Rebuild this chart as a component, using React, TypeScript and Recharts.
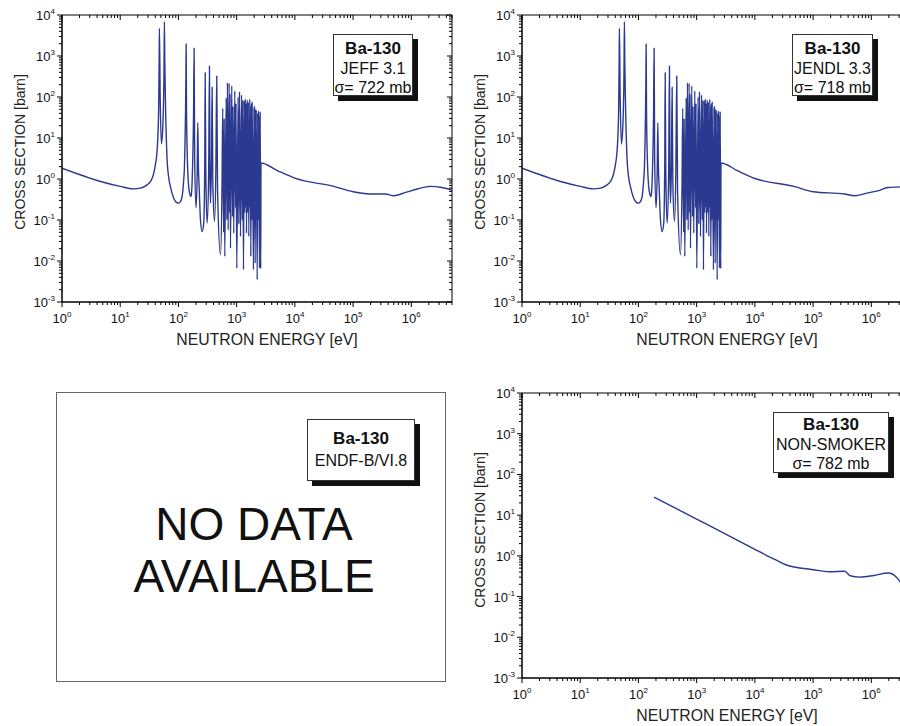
import React from 'react'
import { LineChart, Line, XAxis, YAxis, ReferenceArea } from 'recharts'

const FONT = '"Liberation Sans", Arial, Helvetica, sans-serif'
const CURVE = '#2b3990'

// axis decades, labels drawn as 10^n
const xExponents = [0, 1, 2, 3, 4, 5, 6]
const yExponents = [-3, -2, -1, 0, 1, 2, 3, 4]
const minorSteps = [2, 3, 4, 5, 6, 7, 8, 9]
const xDomain: [number, number] = [1, 5e6]
const yDomain: [number, number] = [1e-3, 1e4]

// 1/v part + resolved resonances
// (the JENDL 3.3 panel shows the same resonance structure)
const resonanceEnergy = [
  1, 4.6, 10, 17, 22.2, 28.9, 33, 37, 40.2, 42.5, 44.1, 45.8, 46.6, 47.1, 48.5,
  51, 54, 56.5, 57.4, 58.3, 59.8, 63.9, 68, 72.8, 83, 92, 101, 108, 115.7,
  122, 126.8, 132, 134.5, 135.6, 137.5, 141, 150, 158, 165, 170, 176, 182, 186,
  190, 201, 210, 215, 220, 227, 239, 255, 272, 283, 288, 295, 311, 330, 341,
  348, 355, 370, 379, 390, 416, 440, 455, 470, 527, 560, 577, 598, 612, 625,
  660, 680, 695, 715, 743, 760, 770, 783, 824, 850, 865, 892, 928, 960, 975,
  1005, 1060, 1090, 1119, 1164, 1211, 1250, 1275, 1310, 1350, 1375, 1403, 1440,
  1455, 1475, 1517, 1560, 1585, 1616, 1682, 1715, 1730, 1750, 1800, 1825, 1849,
  1945, 1985, 2005, 2024, 2080, 2120, 2145, 2167, 2254, 2300, 2330, 2372, 2467,
  2500, 2515, 2537, 2590,
]
const resonanceSigma = [
  1.83, 0.87, 0.66, 0.575, 0.6, 0.72, 0.865, 1.25, 2.2, 4, 9, 60, 600, 4740,
  120, 7.2, 20, 400, 6870, 700, 85, 2.9, 1.1, 0.65, 0.34, 0.27, 0.258, 0.28,
  0.373, 0.8, 2.0, 33, 300, 1963, 60, 5.1, 0.65, 0.42, 0.373, 0.6, 2.9, 40,
  1543, 3, 0.198, 1.5, 23.7, 2.2, 0.65, 0.1, 0.052, 0.084, 2, 393, 1.5, 0.084,
  1.2, 572, 1.5, 0.258, 3, 173, 0.8, 0.092, 2, 326, 0.5, 0.0142, 0.6, 53,
  0.05, 30, 0.0129, 95, 0.1, 224, 0.0575, 216, 0.15, 120, 0.0206, 186, 0.12,
  60, 0.0478, 141, 0.2, 70, 0.0067, 100, 0.08, 135, 0.0395, 112, 0.1, 85,
  0.0061, 80, 0.15, 89.7, 0.2, 70, 0.0478, 84.8, 0.15, 75, 0.0395, 88, 0.2, 60,
  0.0129, 70, 0.1, 77, 0.0061, 55, 0.1, 60.5, 0.0089, 50, 0.1, 48.4, 0.0035,
  40, 0.1, 46.5, 0.0067, 35, 0.2, 44, 0.0065,
]

const jeffTailEnergy = [2620, 5000, 1e4, 4.67e4, 1e5, 2.28e5, 3.6e5, 5e5, 8e5, 1.27e6, 2.1e6, 3.2e6, 5e6]
const jeffTailSigma = [2.45, 1.6, 1.05, 0.66, 0.49, 0.43, 0.43, 0.39, 0.47, 0.57, 0.66, 0.63, 0.54]

const jendlTailEnergy = [2620, 5000, 1e4, 4.67e4, 1e5, 3.46e5, 5.15e5, 8.7e5, 1.3e6, 1.93e6, 3.28e6, 5e6]
const jendlTailSigma = [2.45, 1.6, 1.03, 0.66, 0.49, 0.43, 0.39, 0.46, 0.515, 0.62, 0.645, 0.65]

const nonSmokerEnergy = [185, 1000, 1e4, 1.6e4, 2.2e4, 3.39e4, 1e5, 1.9e5, 3.47e5, 4.34e5, 6.3e5, 1.1e6, 1.95e6, 2.7e6, 3.2e6, 5e6]
const nonSmokerSigma = [27.8, 8.0, 1.45, 1.02, 0.82, 0.605, 0.457, 0.407, 0.42, 0.325, 0.3, 0.33, 0.38, 0.3, 0.22, 0.13]

interface Pt {
  e: number
  s: number
}

const toPoints = (energy: number[], sigma: number[]): Pt[] =>
  energy.map((e, i) => ({ e, s: sigma[i] }))

const jeffData = [...toPoints(resonanceEnergy, resonanceSigma), ...toPoints(jeffTailEnergy, jeffTailSigma)]
const jendlData = [...toPoints(resonanceEnergy, resonanceSigma), ...toPoints(jendlTailEnergy, jendlTailSigma)]
const nonSmokerData = toPoints(nonSmokerEnergy, nonSmokerSigma)

const decadeTicks = (exps: number[], max: number) => {
  const out: number[] = []
  exps.forEach((n) => {
    out.push(Math.pow(10, n))
    minorSteps.forEach((m) => {
      const v = m * Math.pow(10, n)
      if (v <= max) out.push(v)
    })
  })
  return out
}
const xTicks = decadeTicks(xExponents, xDomain[1])
const yTicks = decadeTicks(yExponents, yDomain[1])

const isMajor = (v: number) => {
  const lg = Math.log10(v)
  return Math.abs(lg - Math.round(lg)) < 1e-9
}

const PLOT_W = 390
const Y_AXIS_W = 62
const TOP = 15

const makeXTick = (plotTop: number) => (props: any) => {
  const { x, y, payload } = props
  const major = isMajor(payload.value)
  const len = major ? 5 : 3
  return (
    <g>
      <line x1={x} x2={x} y1={y} y2={y + len} stroke="#000" />
      <line x1={x} x2={x} y1={plotTop} y2={plotTop + len} stroke="#000" />
      {major && (
        <text x={x} y={y + 21} textAnchor="middle" fontSize={13} fontFamily={FONT} fill="#111">
          10
          <tspan dy={-6} fontSize={8}>
            {Math.round(Math.log10(payload.value))}
          </tspan>
        </text>
      )}
    </g>
  )
}

const makeYTick = (plotRight: number) => (props: any) => {
  const { x, y, payload } = props
  const major = isMajor(payload.value)
  const len = major ? 5 : 3
  return (
    <g>
      <line x1={x - len} x2={x} y1={y} y2={y} stroke="#000" />
      <line x1={plotRight - len} x2={plotRight} y1={y} y2={y} stroke="#000" />
      {major && (
        <text x={x - 7} y={y + 5} textAnchor="end" fontSize={13} fontFamily={FONT} fill="#111">
          10
          <tspan dy={-6} fontSize={8}>
            {Math.round(Math.log10(payload.value))}
          </tspan>
        </text>
      )}
    </g>
  )
}

interface PanelProps {
  plotLeft: number
  plotTop: number
  plotH: number
  data: Pt[]
}

const Panel: React.FC<PanelProps> = ({ plotLeft, plotTop, plotH, data }) => {
  const chartH = TOP + plotH + 30 + 28
  return (
    <>
      <div style={{ position: 'absolute', left: plotLeft - Y_AXIS_W, top: plotTop - TOP, width: Y_AXIS_W + PLOT_W + 8 }}>
        <LineChart
          width={Y_AXIS_W + PLOT_W + 8}
          height={chartH}
          data={data}
          margin={{ top: TOP, right: 8, bottom: 28, left: 0 }}
        >
          <XAxis
            dataKey="e"
            type="number"
            scale="log"
            domain={xDomain}
            allowDataOverflow
            ticks={xTicks}
            interval={0}
            height={30}
            tickSize={0}
            tickMargin={0}
            tickLine={false}
            axisLine={{ stroke: '#000' }}
            tick={makeXTick(TOP)}
          />
          <YAxis
            type="number"
            scale="log"
            domain={yDomain}
            allowDataOverflow
            ticks={yTicks}
            interval={0}
            width={Y_AXIS_W}
            tickSize={0}
            tickMargin={0}
            tickLine={false}
            axisLine={{ stroke: '#000' }}
            tick={makeYTick(Y_AXIS_W + PLOT_W)}
          />
          <ReferenceArea
            x1={xDomain[0]}
            x2={xDomain[1]}
            y1={yDomain[0]}
            y2={yDomain[1]}
            fill="none"
            fillOpacity={0}
            stroke="#000"
            strokeWidth={1}
          />
          <Line
            dataKey="s"
            type="monotone"
            stroke={CURVE}
            strokeWidth={1.4}
            strokeLinejoin="round"
            dot={false}
            isAnimationActive={false}
          />
        </LineChart>
      </div>
      <div
        style={{
          position: 'absolute',
          left: plotLeft + 205 - 150,
          top: plotTop + plotH + 38 - 10,
          width: 300,
          textAlign: 'center',
          fontSize: 15.8,
          lineHeight: '20px',
          color: '#222',
        }}
      >
        NEUTRON ENERGY [eV]
      </div>
      <div
        style={{
          position: 'absolute',
          left: plotLeft - 42 - 150,
          top: plotTop + 137 - 10,
          width: 300,
          textAlign: 'center',
          fontSize: 14,
          lineHeight: '20px',
          color: '#222',
          transform: 'rotate(-90deg)',
        }}
      >
        CROSS SECTION [barn]
      </div>
    </>
  )
}

interface LegendProps {
  left: number
  top: number
  width: number
  height: number
  padTop: number
  lines: string[]
  lineH?: number
}

const LegendBox: React.FC<LegendProps> = ({ left, top, width, height, padTop, lines, lineH = 19.5 }) => (
  <div
    style={{
      position: 'absolute',
      left,
      top,
      width,
      height,
      boxSizing: 'border-box',
      border: '1px solid #333',
      background: '#fff',
      boxShadow: '5px 5px 0 #111',
      paddingTop: padTop,
      textAlign: 'center',
      fontSize: 16,
      lineHeight: `${lineH}px`,
      color: '#111',
      whiteSpace: 'nowrap',
    }}
  >
    {lines.map((t, i) => (
      <div key={i} style={{ fontWeight: i === 0 ? 'bold' : 'normal', fontSize: i === 0 ? 17 : 16 }}>
        {t}
      </div>
    ))}
  </div>
)

export default function App() {
  return (
    <div
      style={{
        position: 'fixed',
        left: 0,
        top: 0,
        width: 900,
        height: 726,
        overflow: 'hidden',
        background: '#fff',
        fontFamily: FONT,
      }}
    >
      <Panel plotLeft={62} plotTop={15} plotH={287} data={jeffData} />
      <LegendBox left={333} top={34} width={80} height={62} padTop={4} lines={['Ba-130', 'JEFF 3.1', 'σ= 722 mb']} />

      <Panel plotLeft={522} plotTop={15} plotH={287} data={jendlData} />
      <LegendBox left={792} top={34} width={81} height={62} padTop={4} lines={['Ba-130', 'JENDL 3.3', 'σ= 718 mb']} />

      <div
        style={{
          position: 'absolute',
          left: 56,
          top: 392,
          width: 390,
          height: 290,
          boxSizing: 'border-box',
          border: '1px solid #666',
        }}
      />
      <LegendBox left={307} top={419} width={108} height={62} padTop={8} lineH={22} lines={['Ba-130', 'ENDF-B/VI.8']} />
      <div
        style={{
          position: 'absolute',
          left: 56,
          top: 498,
          width: 396,
          textAlign: 'center',
          fontSize: 46,
          lineHeight: '52px',
          color: '#111',
        }}
      >
        NO DATA
        <br />
        AVAILABLE
      </div>

      <Panel plotLeft={522} plotTop={393} plotH={285} data={nonSmokerData} />
      <LegendBox left={773} top={412} width={116} height={61} padTop={2} lines={['Ba-130', 'NON-SMOKER', 'σ= 782 mb']} />
    </div>
  )
}
